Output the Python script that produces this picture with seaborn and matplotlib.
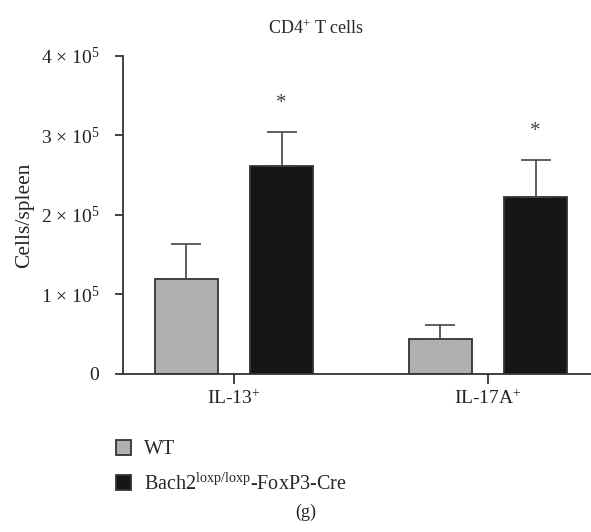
import numpy as np
import pandas as pd
import matplotlib
matplotlib.use("Agg")
import matplotlib.pyplot as plt
import seaborn as sns

categories = ["IL-13$^{+}$", "IL-17A$^{+}$"]
groups = ["WT", "Bach2$^{\\mathregular{loxp/loxp}}$-FoxP3-Cre"]
wt_mean = [1.20e5, 0.44e5]
wt_sem = [0.44e5, 0.18e5]
ko_mean = [2.61e5, 2.23e5]
ko_sem = [0.43e5, 0.46e5]
significance = ["*", "*"]
yticks = [0, 1e5, 2e5, 3e5, 4e5]
ytick_labels = ["0", "1 × 10$^{5}$", "2 × 10$^{5}$", "3 × 10$^{5}$", "4 × 10$^{5}$"]

df = pd.DataFrame({
    "category": categories * 2,
    "group": [groups[0]] * 2 + [groups[1]] * 2,
    "value": wt_mean + ko_mean,
    "err": wt_sem + ko_sem,
})

sns.set_style("white")
plt.rcParams["font.family"] = ["Liberation Serif", "DejaVu Serif"]
plt.rcParams["mathtext.fontset"] = "custom"
plt.rcParams["mathtext.rm"] = "Liberation Serif"
plt.rcParams["mathtext.it"] = "Liberation Serif:italic"

fig = plt.figure(figsize=(5.91, 5.32), dpi=100)
ax = fig.add_axes([0.208, 0.297, 0.792, 0.598])

sns.barplot(
    data=df, x="category", y="value", hue="group",
    palette=["#b0b0b0", "#161616"], width=0.75, gap=0.34,
    edgecolor="#333333", linewidth=1.3, errorbar=None, ax=ax,
)

# one-sided error bars on top of each bar
for container, errs, in zip(ax.containers, [wt_sem, ko_sem]):
    for bar, e in zip(container, errs):
        xc = bar.get_x() + bar.get_width() / 2
        h = bar.get_height()
        ax.errorbar(xc, h, yerr=[[0], [e]], fmt="none", ecolor="#444444",
                    elinewidth=1.2, capsize=11, capthick=1.2, zorder=1)

for bar, e, s in zip(ax.containers[1], ko_sem, significance):
    xc = bar.get_x() + bar.get_width() / 2
    ax.text(xc, bar.get_height() + e + 0.24e5, s, ha="center", va="bottom",
            fontsize=15, color="#444444")

ax.set_xlim(-0.437, 1.406)
ax.set_ylim(0, 4e5)
ax.set_yticks(yticks)
ax.set_yticklabels(ytick_labels)
ax.set_xlabel("")
ax.set_ylabel("Cells/spleen", fontsize=15.5, labelpad=5)
ax.tick_params(axis="both", labelsize=14, colors="#222222")
ax.tick_params(axis="y", direction="out", length=6, width=1.2, left=True, pad=11)
ax.tick_params(axis="x", direction="out", length=7, width=1.2, bottom=True, pad=4)

for side in ["top", "right"]:
    ax.spines[side].set_visible(False)
for side in ["left", "bottom"]:
    ax.spines[side].set_color("#333333")
    ax.spines[side].set_linewidth(1.3)

handles, labels = ax.get_legend_handles_labels()
ax.legend(handles, labels, loc="upper left", bbox_to_anchor=(0.165, 0.207),
          bbox_transform=fig.transFigure, frameon=False, fontsize=14.5,
          handlelength=0.75, handleheight=0.75, handletextpad=0.65,
          labelspacing=0.7)

fig.text(0.535, 0.947, "CD4$^{+}$ T cells", ha="center", va="center", fontsize=13)
fig.text(0.518, 0.037, "(g)", ha="center", va="center", fontsize=13)

fig.savefig("out.png", dpi=100)
